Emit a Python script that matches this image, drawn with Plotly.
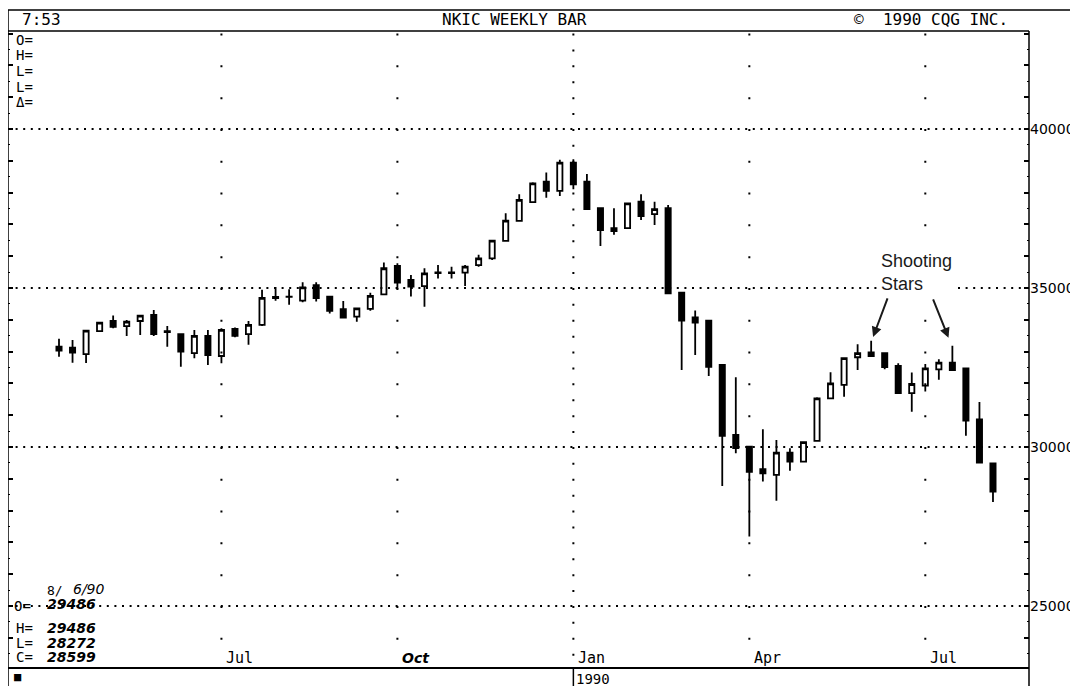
import plotly.graph_objects as go
import pandas as pd

# weekly candles, NKIC (Nikkei) Apr 1989 - Aug 1990
WEEKS = pd.date_range("1989-04-10", periods=70, freq="7D")

OPEN = [33150, 33120, 32920, 33640, 33960, 33800, 33960, 34150, 33640, 33550,
        32950, 33490, 32860, 33710, 33550, 33840, 34720, 34730, 34600, 35090,
        34730, 34330, 34100, 34340, 34800, 35690, 35250, 35060, 35490, 35470,
        35480, 35720, 35930, 36480, 37110, 37700, 38340, 38050, 38940, 38340,
        37510, 36880, 36880, 37710, 37320, 37510, 34850, 34070, 33970, 32580,
        30380, 30010, 29300, 29120, 29820, 29540, 30190, 31530, 31950, 32820,
        32970, 32950, 32550, 31690, 31930, 32440, 32650, 32470, 30870, 29486]
HIGH = [33400, 33360, 33680, 33930, 34130, 33990, 34150, 34310, 33800, 33560,
        33680, 33680, 33730, 33760, 33960, 34940, 35030, 34960, 35180, 35180,
        34740, 34590, 34380, 34850, 35800, 35780, 35410, 35620, 35720, 35670,
        35720, 36040, 36500, 37350, 37950, 38320, 38630, 39030, 39050, 38580,
        37520, 37510, 37680, 37950, 37710, 37610, 34870, 34290, 34000, 32600,
        32190, 30020, 30560, 30220, 29960, 30170, 31560, 32350, 32800, 33230,
        33340, 32960, 32630, 32340, 32610, 32760, 33180, 32490, 31410, 29486]
LOW = [32840, 32650, 32640, 33620, 33730, 33490, 33520, 33490, 33150, 32520,
       32790, 32580, 32630, 33450, 33210, 33800, 34600, 34470, 34550, 34570,
       34200, 34040, 33940, 34280, 34780, 34960, 34730, 34410, 35300, 35300,
       35060, 35670, 35880, 36450, 37100, 37680, 37840, 37890, 38100, 37450,
       36320, 36670, 36860, 37140, 36980, 34800, 32420, 32890, 32230, 28770,
       29800, 27180, 28910, 28310, 29250, 29520, 30170, 31520, 31580, 32420,
       32840, 32440, 31680, 31110, 31740, 32110, 32410, 30350, 29490, 28272]
CLOSE = [33030, 32970, 33660, 33910, 33780, 33940, 34130, 33550, 33610, 33000,
         33490, 32890, 33680, 33490, 33840, 34690, 34680, 34720, 35020, 34680,
         34280, 34070, 34360, 34750, 35620, 35170, 35040, 35460, 35470, 35490,
         35670, 35930, 36490, 37120, 37770, 38290, 38050, 38940, 38260, 37480,
         36820, 36790, 37660, 37260, 37480, 34830, 33970, 33910, 32520, 30350,
         29960, 29220, 29170, 29820, 29540, 30150, 31530, 32000, 32790, 32950,
         32860, 32510, 31690, 31980, 32470, 32650, 32420, 30830, 29510, 28599]

PRICE_LEVELS = [25000, 30000, 35000, 40000]
TICK_VALUES = list(range(24000, 44000, 1000))
MONTH_LINES = ["1989-07-03", "1989-10-02", "1990-01-01", "1990-04-02", "1990-07-02"]
MONTH_NAMES = ["Jul", "Oct", "Jan", "Apr", "Jul"]
LAST_BAR = {"date": "8/ 6/90", "O": 29486, "H": 29486, "L": 28272, "C": 28599}
STAR_WEEKS = ["1990-06-05", "1990-07-14"]
STAR_TIPS = [33460, 33430]

Y_RANGE = [23080, 43080]
X_RANGE = ["1989-03-14 15:00", "1990-08-24 15:00"]

MONO = "DejaVu Sans Mono"

fig = go.Figure()
fig.add_trace(go.Candlestick(
    x=WEEKS, open=OPEN, high=HIGH, low=LOW, close=CLOSE,
    increasing=dict(line=dict(color="black", width=1.8), fillcolor="white"),
    decreasing=dict(line=dict(color="black", width=1.8), fillcolor="black"),
    whiskerwidth=0, showlegend=False,
))
# carrier for the left tick axis
fig.add_trace(go.Scatter(x=[], y=[], yaxis="y2", showlegend=False, hoverinfo="skip"))

shapes = []
# horizontal dotted price levels
for lvl in PRICE_LEVELS:
    shapes.append(dict(type="line", xref="paper", yref="y", x0=0, x1=1, y0=lvl, y1=lvl,
                       line=dict(color="black", width=2, dash="2px,5.6px")))
# vertical dotted month lines (Jan denser)
for d in MONTH_LINES:
    dash = "2px,13.9px" if d.endswith("01-01") else "2px,29.8px"
    shapes.append(dict(type="line", xref="x", yref="y", x0=d, x1=d, y0=43000, y1=23100,
                       line=dict(color="black", width=2, dash=dash)))
# frame
frame = [
    (-0.003, 1.033, 1.06, 1.033),   # top rule of title bar
    (0, 1.0, 1.0, 1.0),             # under title bar
    (0, 1.033, 0, -0.03),           # left border
    (1.0, 1.0, 1.0, -0.03),         # price axis
]
for x0, y0, x1, y1 in frame:
    shapes.append(dict(type="line", xref="paper", yref="paper", x0=x0, y0=y0, x1=x1, y1=y1,
                       line=dict(color="black", width=1.5)))
shapes.append(dict(type="line", xref="x", yref="paper", x0="1990-01-01", x1="1990-01-01",
                   y0=0, y1=-0.03, line=dict(color="black", width=1.5)))

ann = []

def txt(x, y, s, size=14, family=MONO, xref="paper", xshift=0, **kw):
    ann.append(dict(x=x, y=y, xref=xref, yref="paper", text=s, showarrow=False,
                    xanchor="left", yanchor="middle", xshift=xshift,
                    font=dict(family=family, size=size, color="black"), **kw))

# title bar
txt(0.0118, 1.0173, "7:53", size=16)
txt(0.423, 1.0173, "NKIC WEEKLY BAR", size=16)
txt(0.8266, 1.0173, "©  1990 CQG INC.", size=16)

# header readout (empty)
for lab, yp in zip(["O=", "H=", "L=", "L=", "Δ="], [0.9858, 0.9623, 0.9371, 0.9119, 0.8884]):
    txt(0.0059, yp, lab, size=14)

# last bar readout
txt(0.0362, 0.1195, "8/", size=13)
txt(0.0617, 0.1225, "<i>" + LAST_BAR["date"].split("/ ")[1] + "</i>", size=14, family="DejaVu Sans")
rows = [("O=", LAST_BAR["O"], 0.0965, 0.0995),
        ("H=", LAST_BAR["H"], 0.0613, 0.0613),
        ("L=", LAST_BAR["L"], 0.0377, 0.0377),
        ("C=", LAST_BAR["C"], 0.0157, 0.0157)]
for lab, val, yl, yv in rows:
    txt(0.0039 if lab == "O=" else 0.0059, yl, lab, size=14)
    txt(0.0362, yv, "<b><i>%d</i></b>" % val, size=14, family="DejaVu Sans")

# month labels
for d, name in zip(MONTH_LINES, MONTH_NAMES):
    if name == "Oct":
        s, fam, sz = "<b><i>Oct</i></b>", "DejaVu Sans", 14
    else:
        s, fam, sz = name, MONO, 15
    ann.append(dict(x=d, y=0.0142, xref="x", yref="paper", text=s, showarrow=False,
                    xanchor="left", yanchor="middle", xshift=3,
                    font=dict(family=fam, size=sz, color="black")))
txt("1990-01-01", -0.0189, "1990", size=14, xref="x", xshift=1)
txt(0.0039, -0.0157, "■", size=12)

# shooting stars note
ann.append(dict(x=0.8521, y=0.6195, xref="paper", yref="paper", text="Shooting<br>Stars",
                showarrow=False, xanchor="left", yanchor="middle", align="left",
                bgcolor="white", borderpad=2,
                font=dict(family="Liberation Sans", size=18, color="#1a1a1a")))
for d, tip, dx in zip(STAR_WEEKS, STAR_TIPS, [15, -16]):
    ann.append(dict(x=d, y=tip, xref="x", yref="y", text="", showarrow=True,
                    ax=dx, ay=-40, arrowhead=2, arrowsize=1, arrowwidth=2,
                    arrowcolor="#1a1a1a"))

tick_text = [str(v) if v in PRICE_LEVELS else "" for v in TICK_VALUES]
minor = dict(ticks="inside", ticklen=2, tickwidth=1.2, tickcolor="black",
             dtick=500, tick0=0, showgrid=False)

# page body adds an 8px margin, so the figure is 8px smaller each way
fig.update_layout(
    width=1070, height=678,
    margin=dict(l=0, r=49, t=23, b=19),
    paper_bgcolor="white", plot_bgcolor="white",
    boxgap=0.45,
    shapes=shapes, annotations=ann,
    showlegend=False,
    xaxis=dict(type="date", range=X_RANGE, showgrid=False, showticklabels=False,
               ticks="", showline=True, linecolor="black", linewidth=1.5,
               zeroline=False, rangeslider=dict(visible=False)),
    yaxis=dict(side="right", range=Y_RANGE, tickmode="array", tickvals=TICK_VALUES,
               ticktext=tick_text, ticks="inside", ticklen=5, tickwidth=1.5,
               tickcolor="black", showline=False, showgrid=False, zeroline=False,
               tickfont=dict(family="DejaVu Sans", size=14, color="black"),
               minor=minor),
    yaxis2=dict(overlaying="y", side="left", anchor="x", range=Y_RANGE,
                tickmode="array", tickvals=TICK_VALUES, showticklabels=False,
                ticks="inside", ticklen=5, tickwidth=1.5, tickcolor="black",
                showline=False, showgrid=False, zeroline=False, minor=minor),
)

fig.write_html("out.html")
